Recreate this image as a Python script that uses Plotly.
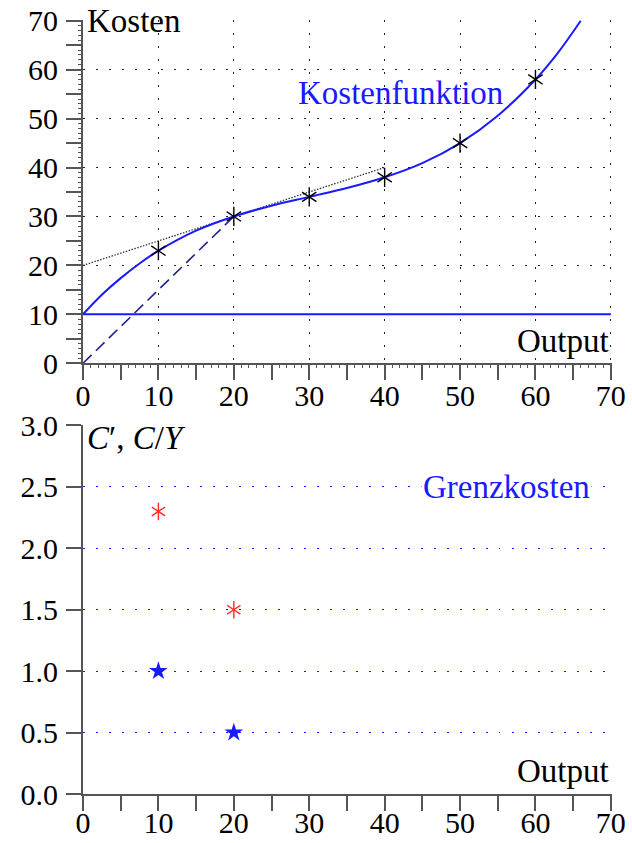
import plotly.graph_objects as go

# ---- data -------------------------------------------------------------
# cost curve (output Y, total cost C)
cost_x = [0, 2.5, 5, 7.5, 10, 15, 20, 25, 30, 35, 40, 45, 50, 55, 60, 63, 66]
cost_y = [10, 14.0, 17.4, 20.4, 23, 27.1, 30, 32.2, 34, 35.8, 38, 40.9, 45, 50.6, 58, 63.5, 70]

# marked observations on the cost curve
obs_x = [10, 20, 30, 40, 50, 60]
obs_cost = [23, 30, 34, 38, 45, 58]

# fixed cost, tangent at Y=20, ray from origin to Y=20
fixed_x = [0, 70]
fixed_y = [10, 10]
tangent_x = [0, 40]
tangent_y = [20, 40]
ray_x = [0, 20]
ray_y = [0, 30]

# lower panel: average cost C/Y and marginal cost C'
unit_x = [10, 20]
avg_cost = [2.3, 1.5]
marg_cost = [1.0, 0.5]

# tick labels
top_ticks = [0, 10, 20, 30, 40, 50, 60, 70]
bot_yticks = [0, 0.5, 1.0, 1.5, 2.0, 2.5, 3.0]
bot_ylabels = ["0.0", "0.5", "1.0", "1.5", "2.0", "2.5", "3.0"]

# ---- styling ----------------------------------------------------------
FONT = "Liberation Serif, DejaVu Serif, serif"
FS = 30      # tick labels
FA = 33      # annotations
AX = "#555555"
BLUE = "#1a1aff"

fig = go.Figure()

# upper panel
fig.add_trace(go.Scatter(x=fixed_x, y=fixed_y, mode="lines",
                         line=dict(color=BLUE, width=2), xaxis="x", yaxis="y"))
fig.add_trace(go.Scatter(x=tangent_x, y=tangent_y, mode="lines",
                         line=dict(color="#333333", width=1.3, dash="1.5px,1.5px"),
                         xaxis="x", yaxis="y"))
fig.add_trace(go.Scatter(x=ray_x, y=ray_y, mode="lines",
                         line=dict(color="#22228a", width=1.6, dash="12px,6px"),
                         xaxis="x", yaxis="y"))
fig.add_trace(go.Scatter(x=cost_x, y=cost_y, mode="lines",
                         line=dict(color=BLUE, width=2, shape="spline", smoothing=1.0),
                         xaxis="x", yaxis="y"))
for sym in ("y-up-open", "y-down-open"):
    fig.add_trace(go.Scatter(x=obs_x, y=obs_cost, mode="markers",
                             marker=dict(symbol=sym, size=12, color="black",
                                         line=dict(color="black", width=1.4)),
                             xaxis="x", yaxis="y"))

# lower panel
for sym in ("y-up-open", "y-down-open"):
    fig.add_trace(go.Scatter(x=unit_x, y=avg_cost, mode="markers",
                             marker=dict(symbol=sym, size=11, color="#ff2a2a",
                                         line=dict(color="#ff2a2a", width=1.4)),
                             xaxis="x2", yaxis="y2"))
fig.add_trace(go.Scatter(x=unit_x, y=marg_cost, mode="markers",
                         marker=dict(symbol="star", size=14, color="#1a1aff",
                                     line=dict(width=0)),
                         xaxis="x2", yaxis="y2"))

# carriers for the fine unit marks along the upper axes
fig.add_trace(go.Scatter(x=[0], y=[0], mode="markers", marker=dict(opacity=0),
                         xaxis="x3", yaxis="y", hoverinfo="skip"))
fig.add_trace(go.Scatter(x=[0], y=[0], mode="markers", marker=dict(opacity=0),
                         xaxis="x", yaxis="y3", hoverinfo="skip"))

XR = [0, 70.15]
tickfont = dict(family=FONT, size=FS, color="black")
grid_top = dict(showgrid=True, gridcolor="#222222", gridwidth=1.2, griddash="1.5px,11.5px")
major = dict(ticks="outside", ticklen=15, tickwidth=1.6, tickcolor=AX,
             showline=True, linecolor=AX, linewidth=2, zeroline=False,
             tickfont=tickfont, automargin=False)
minor5 = dict(dtick=5, ticks="outside", ticklen=15, tickwidth=1.6,
              tickcolor=AX, showgrid=False)

fig.update_layout(
    width=632, height=843,
    margin=dict(l=83, r=20, t=20, b=49),
    paper_bgcolor="white", plot_bgcolor="white",
    showlegend=False,
    xaxis=dict(domain=[0, 1], anchor="y", range=XR, tickvals=top_ticks,
               minor=minor5, ticklabelstandoff=-10, **grid_top, **major),
    yaxis=dict(domain=[0.5565, 1], anchor="x", range=[0, 70.15], tickvals=top_ticks,
               minor=minor5, ticklabelstandoff=2, **grid_top, **major),
    xaxis3=dict(overlaying="x", anchor="y", range=XR, dtick=1, ticks="outside",
                ticklen=4, tickwidth=1, tickcolor=AX, showticklabels=False,
                showgrid=False, showline=False, zeroline=False, automargin=False),
    yaxis3=dict(overlaying="y", anchor="x", side="left", range=[0, 70.15], dtick=1,
                ticks="outside", ticklen=4, tickwidth=1, tickcolor=AX,
                showticklabels=False, showgrid=False, showline=False, zeroline=False,
                automargin=False),
    xaxis2=dict(domain=[0, 1], anchor="y2", range=XR, tickvals=top_ticks,
                minor=minor5, ticklabelstandoff=-14, showgrid=False, **major),
    yaxis2=dict(domain=[0, 0.4771], anchor="x2", range=[0, 3.006],
                tickvals=bot_yticks, ticktext=bot_ylabels, ticklabelstandoff=2,
                showgrid=True, gridcolor=BLUE, gridwidth=1.3, griddash="1.5px,11.5px",
                **major),
)

ann_font = dict(family=FONT, size=FA, color="black")
fig.add_annotation(x=0, y=70, xref="x", yref="y", text="Kosten", showarrow=False,
                   xanchor="left", yanchor="middle", xshift=2, font=ann_font)
fig.add_annotation(x=70, y=4.5, xref="x", yref="y", text="Output", showarrow=False,
                   xanchor="right", yanchor="middle", font=ann_font)
fig.add_annotation(x=42.1, y=55.3, xref="x", yref="y", text="Kostenfunktion",
                   showarrow=False, xanchor="center", yanchor="middle",
                   font=dict(family=FONT, size=FA, color=BLUE))
fig.add_annotation(x=0, y=2.9, xref="x2", yref="y2",
                   text="<i>C</i>′, <i>C</i>/<i>Y</i>", showarrow=False,
                   xanchor="left", yanchor="middle", xshift=2, font=ann_font)
fig.add_annotation(x=67.5, y=2.5, xref="x2", yref="y2", text="Grenzkosten",
                   showarrow=False, xanchor="right", yanchor="middle",
                   bgcolor="white", font=dict(family=FONT, size=FA, color=BLUE))
fig.add_annotation(x=70, y=0.19, xref="x2", yref="y2", text="Output", showarrow=False,
                   xanchor="right", yanchor="middle", font=ann_font)

fig.write_html("out.html")
